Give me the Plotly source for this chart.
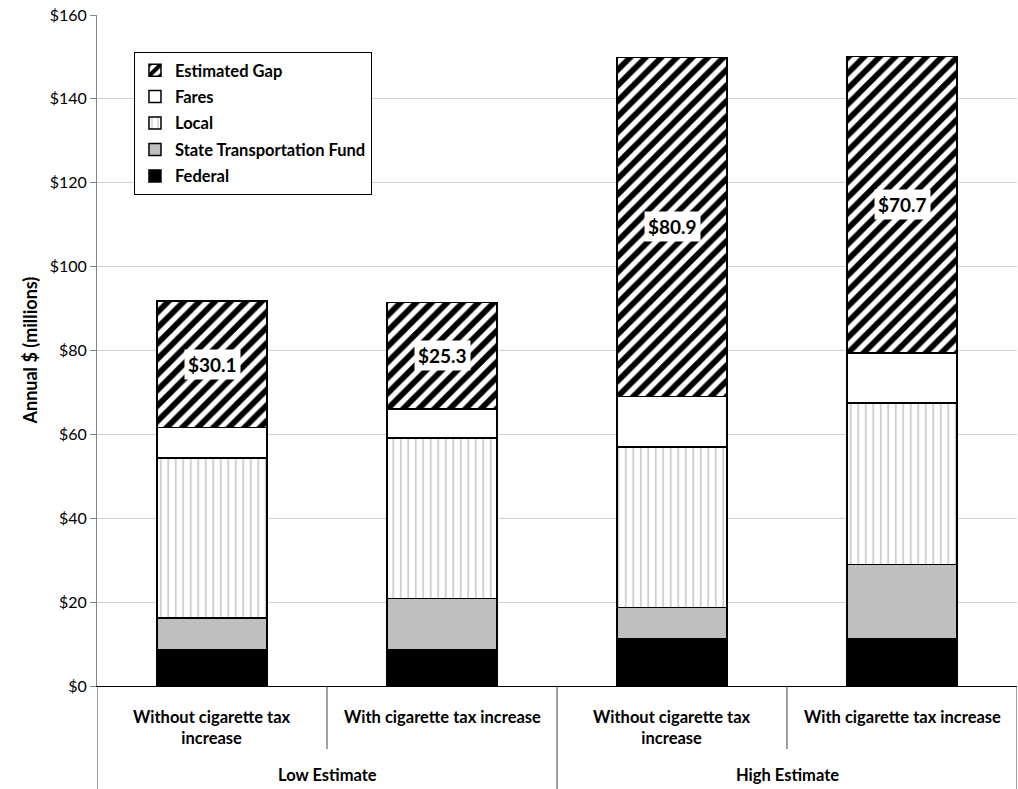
import plotly.graph_objects as go

groups = ["Low Estimate", "High Estimate"]
scenarios = ["Without cigarette tax<br>increase", "With cigarette tax increase"]
bar_group = [0, 0, 1, 1]
bar_scenario = [0, 1, 0, 1]

federal = [8.6, 8.6, 11.2, 11.2]
state_fund = [7.6, 12.3, 7.5, 17.8]
local = [38.2, 38.2, 38.3, 38.5]
fares = [7.3, 7.0, 12.0, 11.9]
gap = [30.1, 25.3, 80.9, 70.7]
gap_labels = ["$30.1", "$25.3", "$80.9", "$70.7"]

x = list(range(len(federal)))
FONT = "Lato"
W = 0.478
line = dict(color="black", width=1.5)

fig = go.Figure()
fig.add_bar(x=x, y=federal, name="Federal", width=W, legendgroup="e", legendrank=5,
            marker=dict(color="black", line=line))
fig.add_bar(x=x, y=state_fund, name="State Transportation Fund", width=W, legendgroup="d",
            legendrank=4, marker=dict(color="#bfbfbf", line=line))
fig.add_bar(x=x, y=local, name="Local", width=W, legendgroup="c", legendrank=3,
            marker=dict(color="white", line=line,
                        pattern=dict(shape="|", fgcolor="#c4c4c4", bgcolor="white",
                                     size=7.5, solidity=0.2, fgopacity=1,
                                     fillmode="replace")))
fig.add_bar(x=x, y=fares, name="Fares", width=W, legendgroup="b", legendrank=2,
            marker=dict(color="white", line=line))
fig.add_bar(x=x, y=gap, name="Estimated Gap", width=W, legendgroup="a", legendrank=1,
            marker=dict(color="white", line=line,
                        pattern=dict(shape="/", fgcolor="#000000", bgcolor="white",
                                     size=11, solidity=0.52, fgopacity=1,
                                     fillmode="replace")))

# data labels in the middle of the gap segment
for i in x:
    base = federal[i] + state_fund[i] + local[i] + fares[i]
    fig.add_annotation(x=i, y=base + gap[i] / 2, text="<b>%s</b>" % gap_labels[i],
                       showarrow=False, bgcolor="white", borderpad=3,
                       font=dict(family=FONT, size=19, color="black"))

# category labels
for i in x:
    fig.add_annotation(x=i, y=-0.028, xref="x", yref="paper", yanchor="top",
                       text="<b>%s</b>" % scenarios[bar_scenario[i]], showarrow=False,
                       font=dict(family=FONT, size=16.5, color="black"))
for g, name in enumerate(groups):
    fig.add_annotation(x=2 * g + 0.5, y=-0.133, xref="x", yref="paper", yanchor="middle",
                       text="<b>%s</b>" % name, showarrow=False,
                       font=dict(family=FONT, size=16.5, color="black"))

# separators below the axis
for b in [-0.5, 0.5, 1.5, 2.5, 3.5]:
    long_line = b in (-0.5, 1.5, 3.5)
    fig.add_shape(type="line", xref="x", yref="paper", x0=b, x1=b, y0=0,
                  y1=-0.16 if long_line else -0.094,
                  line=dict(color="#404040", width=1))

fig.add_annotation(x=-0.087, y=0.5, xref="paper", yref="paper", textangle=-90,
                   text="<b>Annual $ (millions)</b>", showarrow=False,
                   font=dict(family=FONT, size=18, color="black"))

fig.update_layout(
    width=1018, height=789, barmode="stack",
    margin=dict(l=97, r=1, t=15, b=103),
    paper_bgcolor="white", plot_bgcolor="white",
    font=dict(family=FONT, color="black"),
    legend=dict(x=0.0402, y=0.945, xanchor="left", yanchor="top",
                bgcolor="white", bordercolor="black", borderwidth=1,
                traceorder="grouped", tracegroupgap=2,
                font=dict(family=FONT, size=16.5, color="black", weight="bold")),
    xaxis=dict(range=[-0.5, 3.5], showticklabels=False, showgrid=False, zeroline=False,
               showline=True, linecolor="black", linewidth=1, fixedrange=True),
    yaxis=dict(range=[0, 160], dtick=20, tickprefix="$", showgrid=True,
               gridcolor="#d0d0d0", gridwidth=1, zeroline=False,
               showline=True, linecolor="#868686", linewidth=1,
               ticks="outside", ticklen=6, tickcolor="#868686",
               tickfont=dict(family=FONT, size=16, color="black")),
)

fig.write_html("out.html")
